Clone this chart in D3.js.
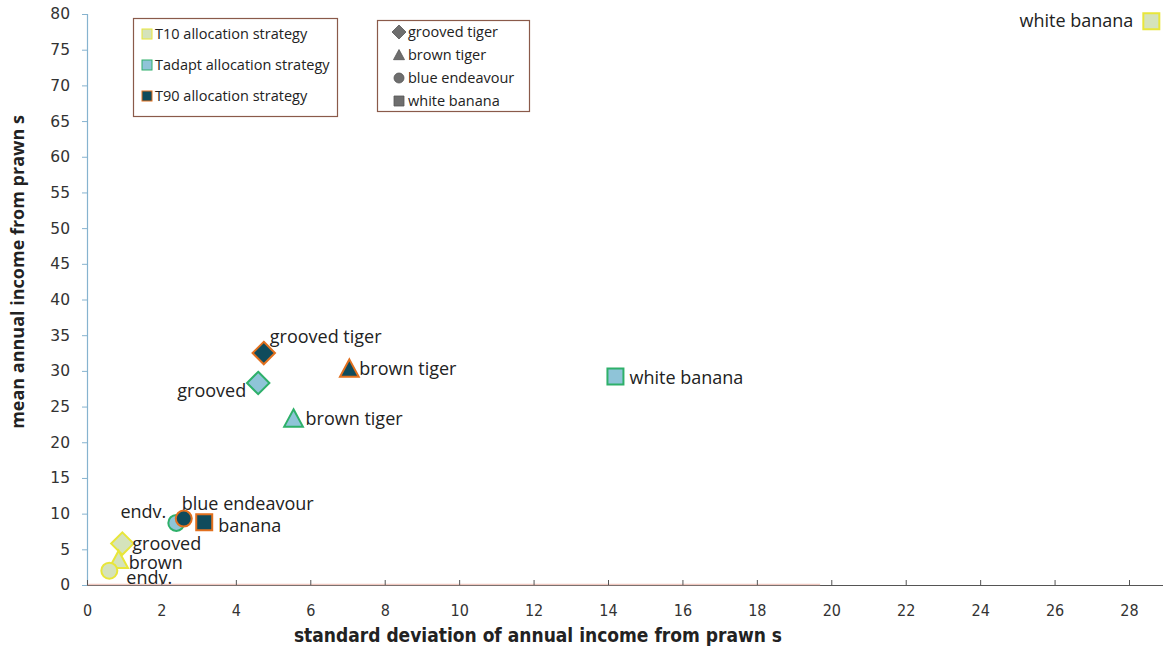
<!DOCTYPE html>
<html><head><meta charset="utf-8">
<script src="https://cdn.jsdelivr.net/npm/d3@7"></script>
<style>body{margin:0;background:#fff}svg{display:block}</style>
</head><body>
<svg id="c" width="1166" height="650"></svg>
<script>
const strategies = ["T10 allocation strategy", "Tadapt allocation strategy", "T90 allocation strategy"];
const species = ["grooved tiger", "brown tiger", "blue endeavour", "white banana"];
const speciesShape = ["diamond", "triangle", "circle", "square"];
// [sd, mean] per strategy, species order
const t10Values = [[0.95, 5.8], [0.85, 3.5], [0.6, 2.0], [28.6, 79.0]];
const tadaptValues = [[4.6, 28.3], [5.55, 23.3], [2.4, 8.7], [14.2, 29.2]];
const t90Values = [[4.75, 32.5], [7.05, 30.3], [2.6, 9.3], [3.15, 8.8]];
const t10Labels = ["grooved", "brown", "endv.", "white banana"];
const tadaptLabels = ["grooved", "brown tiger", "endv.", "white banana"];
const t90Labels = ["grooved tiger", "brown tiger", "blue endeavour", "banana"];
const xTicks = [0,2,4,6,8,10,12,14,16,18,20,22,24,26,28];
const yTicks = [0,5,10,15,20,25,30,35,40,45,50,55,60,65,70,75,80];

const fills = ["#d5e3bb", "#8fc4d8", "#0f4b5c"];
const strokes = ["#e8e63a", "#2eb06a", "#e2701e"];

const svg = d3.select("#c");
const x = d3.scaleLinear().domain([0, 28]).range([87, 1129]);
const y = d3.scaleLinear().domain([0, 80]).range([585, 14]);

// axes
const yAxis = d3.axisLeft(y).tickValues(yTicks).tickSize(5).tickPadding(12);
const gy = svg.append("g").attr("transform", "translate(87,0)").call(yAxis);
gy.select(".domain").attr("stroke", "#86b3cf").attr("stroke-width", 1.2);
gy.selectAll(".tick line").attr("stroke", "#86b3cf");
gy.selectAll(".tick text").attr("font-family", "DejaVu Sans, sans-serif").attr("font-size", 15.5).attr("fill", "#333");

svg.append("line").attr("x1", 87).attr("x2", 1163).attr("y1", 585.5).attr("y2", 585.5).attr("stroke", "#555").attr("stroke-width", 1.2);
svg.append("line").attr("x1", 87).attr("x2", x(19.7)).attr("y1", 584.5).attr("y2", 584.5).attr("stroke", "#f0c8c0").attr("stroke-width", 1.5);
const xAxis = d3.axisBottom(x).tickValues(xTicks).tickSize(0).tickPadding(20);
const gx = svg.append("g").attr("transform", "translate(0,585)").call(xAxis);
gx.select(".domain").remove();
gx.selectAll(".tick").append("line").attr("y1", 0).attr("y2", -5).attr("stroke", "#555");
gx.selectAll(".tick text").attr("font-family", "Liberation Sans Narrow, DejaVu Sans Condensed, sans-serif").attr("font-size", 16).attr("fill", "#333");

svg.append("text").attr("x", 538).attr("y", 642).attr("text-anchor", "middle")
  .attr("font-family", "Liberation Sans Narrow, DejaVu Sans Condensed, sans-serif").attr("font-weight", "bold").attr("font-size", 19).attr("fill", "#222")
  .text("standard deviation of annual income from prawn s");
svg.append("text").attr("transform", "translate(24,272) rotate(-90)").attr("text-anchor", "middle")
  .attr("font-family", "Open Sans, sans-serif").attr("font-weight", "bold").attr("font-size", 18).attr("fill", "#222")
  .text("mean annual income from prawn s");

function shapePath(shape, s) {
  if (shape === "diamond") { const h = s * 0.7; return `M0,${-h}L${h},0L0,${h}L${-h},0Z`; }
  if (shape === "triangle") { const h = s * 0.55; return `M0,${-h}L${h},${h*0.85}L${-h},${h*0.85}Z`; }
  if (shape === "square") { const h = s / 2; return `M${-h},${-h}H${h}V${h}H${-h}Z`; }
  return d3.arc()({innerRadius:0, outerRadius:s/2, startAngle:0, endAngle:2*Math.PI});
}

const allVals = [t10Values, tadaptValues, t90Values];
const allLabels = [t10Labels, tadaptLabels, t90Labels];
// label placement: [dx, dy, anchor]
const labelPos = [
  [[10, 6, "start"], [10, 9, "start"], [17, 13, "start"], [-18, 6, "end"]],
  [[-12, 14, "end"], [12, 6, "start"], [-10, -5, "end"], [14, 7, "start"]],
  [[6, -10, "start"], [-2, -10, "start"], [14, 10, "start"]]
];
labelPos[2] = [[6, -10, "start"], [10, 6, "start"], [-2, -9, "start"], [14, 10, "start"]];
allVals.forEach((vals, si) => {
  const g = svg.append("g");
  g.selectAll("path").data(vals).join("path")
    .attr("transform", d => `translate(${x(d[0])},${y(d[1])})`)
    .attr("d", (d, i) => shapePath(speciesShape[i], speciesShape[i] === "triangle" ? 17 : 16))
    .attr("fill", fills[si]).attr("stroke", strokes[si]).attr("stroke-width", 2);
  g.selectAll("text").data(vals).join("text")
    .attr("x", (d, i) => x(d[0]) + labelPos[si][i][0])
    .attr("y", (d, i) => y(d[1]) + labelPos[si][i][1])
    .attr("text-anchor", (d, i) => labelPos[si][i][2])
    .attr("font-family", "Open Sans, sans-serif").attr("font-size", 18).attr("fill", "#222")
    .text((d, i) => allLabels[si][i]);
});

// legend 1
const l1 = svg.append("g");
l1.append("rect").attr("x", 133.5).attr("y", 18.5).attr("width", 204).attr("height", 98).attr("fill", "#fff").attr("stroke", "#8a5a4a").attr("stroke-width", 1.2);
strategies.forEach((s, i) => {
  const yy = 34 + i * 31;
  l1.append("rect").attr("x", 142).attr("y", yy - 5).attr("width", 10).attr("height", 10).attr("fill", fills[i]).attr("stroke", strokes[i]).attr("stroke-width", 1);
  l1.append("text").attr("x", 155).attr("y", yy + 5).attr("font-family", "Open Sans, sans-serif").attr("font-size", 14.5).attr("fill", "#222").text(s);
});
// legend 2
const l2 = svg.append("g");
l2.append("rect").attr("x", 377.5).attr("y", 20.5).attr("width", 152).attr("height", 91).attr("fill", "#fff").attr("stroke", "#8a5a4a").attr("stroke-width", 1.2);
species.forEach((s, i) => {
  const yy = 32 + i * 23;
  l2.append("path").attr("transform", `translate(399,${yy})`).attr("d", shapePath(speciesShape[i], 10)).attr("fill", "#6e6e6e").attr("stroke", "#555").attr("stroke-width", 0.8);
  l2.append("text").attr("x", 408).attr("y", yy + 5).attr("font-family", "Open Sans, sans-serif").attr("font-size", 14.5).attr("fill", "#222").text(s);
});
</script>
</body></html>
